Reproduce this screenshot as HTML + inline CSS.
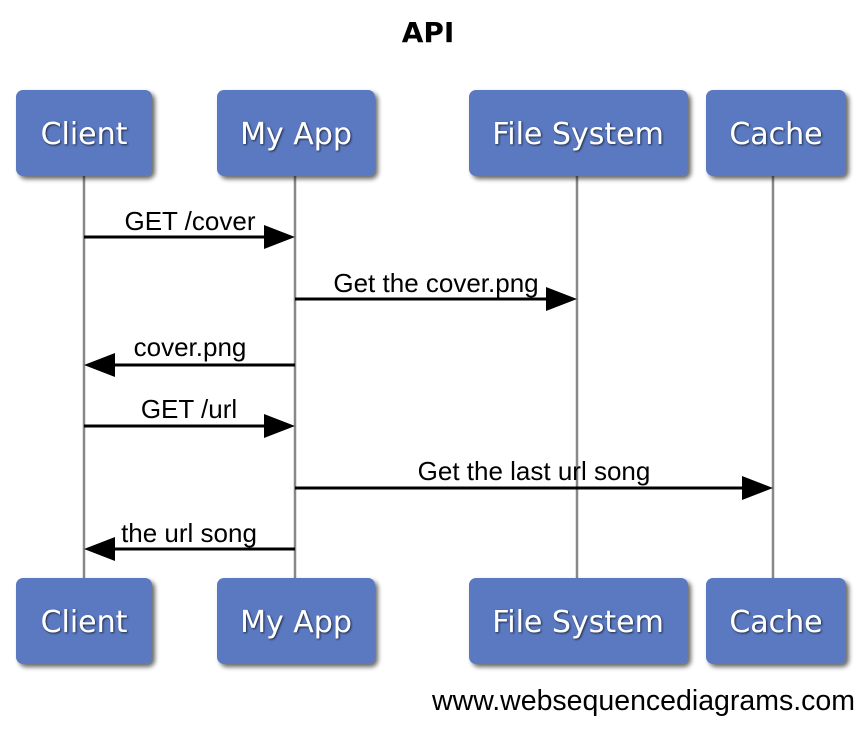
<!DOCTYPE html>
<html><head><meta charset="utf-8"><style>
html,body{margin:0;padding:0;background:#fff;}
svg{display:block;}
.bt{font-family:"DejaVu Sans","Liberation Sans",sans-serif;font-size:30px;fill:#fff;text-anchor:middle;}
.lb{font-family:"Liberation Sans",sans-serif;font-size:26px;fill:#000;text-anchor:middle;}
</style></head><body>
<svg width="868" height="742" viewBox="0 0 868 742" xmlns="http://www.w3.org/2000/svg">
<defs>
<filter id="sh" x="-10%" y="-10%" width="130%" height="130%"><feGaussianBlur in="SourceAlpha" stdDeviation="2.5"/><feOffset dx="3" dy="3"/><feComponentTransfer><feFuncA type="linear" slope="0.6"/></feComponentTransfer><feMerge><feMergeNode/><feMergeNode in="SourceGraphic"/></feMerge></filter>
<filter id="ts"><feGaussianBlur in="SourceAlpha" stdDeviation="1"/><feOffset dx="1" dy="1"/><feComponentTransfer><feFuncA type="linear" slope="0.7"/></feComponentTransfer><feMerge><feMergeNode/><feMergeNode in="SourceGraphic"/></feMerge></filter>
</defs>
<text x="428" y="42" font-family="DejaVu Sans,Liberation Sans,sans-serif" font-size="28" font-weight="bold" text-anchor="middle">API</text>
<g stroke="#888" stroke-width="2.5">
<line x1="84" y1="176" x2="84" y2="580"/><line x1="295" y1="176" x2="295" y2="580"/>
<line x1="577" y1="176" x2="577" y2="580"/><line x1="773" y1="176" x2="773" y2="580"/>
</g>
<g fill="#5a79c1" filter="url(#sh)">
<rect x="16" y="90" width="136" height="86" rx="7"/><rect x="217" y="90" width="158" height="86" rx="7"/>
<rect x="469" y="90" width="219" height="86" rx="7"/><rect x="706" y="90" width="140" height="86" rx="7"/>
<rect x="16" y="578" width="136" height="86" rx="7"/><rect x="217" y="578" width="158" height="86" rx="7"/>
<rect x="469" y="578" width="219" height="86" rx="7"/><rect x="706" y="578" width="140" height="86" rx="7"/>
</g>
<g class="bt" filter="url(#ts)">
<text x="84" y="144">Client</text><text x="296" y="144">My App</text><text x="578" y="144">File System</text><text x="776" y="144">Cache</text>
<text x="84" y="632">Client</text><text x="296" y="632">My App</text><text x="578" y="632">File System</text><text x="776" y="632">Cache</text>
</g>
<g stroke="#000" stroke-width="3">
<line x1="84" y1="237" x2="270" y2="237"/>
<line x1="295" y1="299" x2="552" y2="299"/>
<line x1="110" y1="365" x2="295" y2="365"/>
<line x1="84" y1="426" x2="270" y2="426"/>
<line x1="295" y1="488" x2="748" y2="488"/>
<line x1="110" y1="549" x2="295" y2="549"/>
</g>
<g fill="#000">
<polygon points="264,225 295,237 264,249"/>
<polygon points="546,287 577,299 546,311"/>
<polygon points="115,353 84,365 115,377"/>
<polygon points="264,414 295,426 264,438"/>
<polygon points="742,476 773,488 742,500"/>
<polygon points="115,537 84,549 115,561"/>
</g>
<g class="lb">
<text x="190" y="230">GET /cover</text>
<text x="436" y="292">Get the cover.png</text>
<text x="190" y="356">cover.png</text>
<text x="189" y="418">GET /url</text>
<text x="534" y="480">Get the last url song</text>
<text x="189" y="542">the url song</text>
</g>
<text x="855" y="710" font-family="Liberation Sans,sans-serif" font-size="28.5" text-anchor="end">www.websequencediagrams.com</text>
</svg>
</body></html>
